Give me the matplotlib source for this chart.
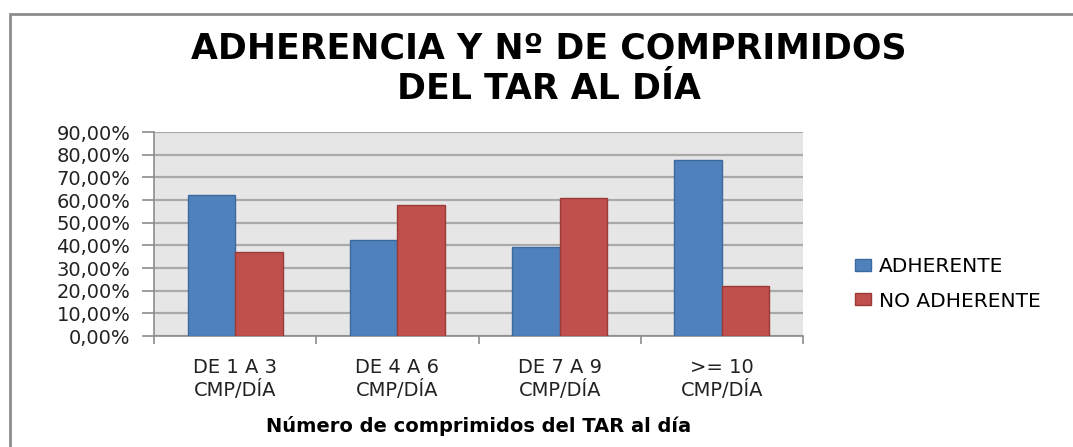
import matplotlib
matplotlib.use("Agg")
import matplotlib.pyplot as plt
import numpy as np
from matplotlib.patches import Rectangle

categories = ["DE 1 A 3\nCMP/DÍA", "DE 4 A 6\nCMP/DÍA", "DE 7 A 9\nCMP/DÍA", ">= 10\nCMP/DÍA"]
adherente = [62.2, 42.3, 39.3, 77.8]
no_adherente = [37.0, 57.7, 60.7, 22.2]
yticks = [0, 10, 20, 30, 40, 50, 60, 70, 80, 90]

fig = plt.figure(figsize=(10.73, 4.47), dpi=100)
fig.patch.set_facecolor("white")

# outer chart frame (only top/left visible in the original)
fig.patches.append(Rectangle((10 / 1073, -0.1), 1.2, 1 - 14 / 447 + 0.1,
                             transform=fig.transFigure, fill=False,
                             edgecolor="#8c8c8c", linewidth=2))

ax = fig.add_axes([154 / 1073, 1 - 336 / 447, 649 / 1073, 204 / 447])
ax.set_facecolor("#e6e6e6")

x = np.arange(len(categories))
w = 0.293
ax.bar(x - w / 2, adherente, w, color="#4f81bd", edgecolor="#3c6a9e",
       linewidth=1, label="ADHERENTE", zorder=3)
ax.bar(x + w / 2, no_adherente, w, color="#c0504d", edgecolor="#9b3b38",
       linewidth=1, label="NO ADHERENTE", zorder=3)

ax.set_xlim(-0.5, len(categories) - 0.5)
ax.set_ylim(0, 90)
ax.set_yticks(yticks)
ax.set_yticklabels([f"{v:.2f}%".replace(".", ",") for v in yticks],
                   fontsize=14, color="#222222")
ax.yaxis.grid(True, color="#a9a9a9", linewidth=1.6, zorder=0)
ax.set_axisbelow(True)

ax.set_xticks(x)
ax.set_xticklabels(categories, fontsize=14, color="#222222", linespacing=1.2)
ax.tick_params(axis="x", length=0, pad=16)
ax.set_xticks(np.arange(-0.5, len(categories)), minor=True)
ax.tick_params(axis="x", which="minor", length=6, color="#8c8c8c", width=1.2)
ax.tick_params(axis="y", length=9, color="#8c8c8c", width=1.2, pad=8)

for s in ["top", "right"]:
    ax.spines[s].set_visible(False)
for s in ["left", "bottom"]:
    ax.spines[s].set_color("#8c8c8c")
    ax.spines[s].set_linewidth(1.2)

ax.set_xlabel("Número de comprimidos del TAR al día", fontsize=14,
              fontweight="bold", labelpad=11)

fig.text(549 / 1073, 1 - 69 / 447, "ADHERENCIA Y Nº DE COMPRIMIDOS\nDEL TAR AL DÍA",
         ha="center", va="center", fontsize=25, fontweight="bold",
         linespacing=1.25)

ax.legend(loc="center left", bbox_to_anchor=(845 / 1073, 1 - 284 / 447),
          bbox_transform=fig.transFigure, frameon=False, fontsize=14.5,
          handlelength=0.8, handleheight=0.55, handletextpad=0.4,
          labelspacing=0.75, borderpad=0)

fig.savefig("out.png", dpi=100)
